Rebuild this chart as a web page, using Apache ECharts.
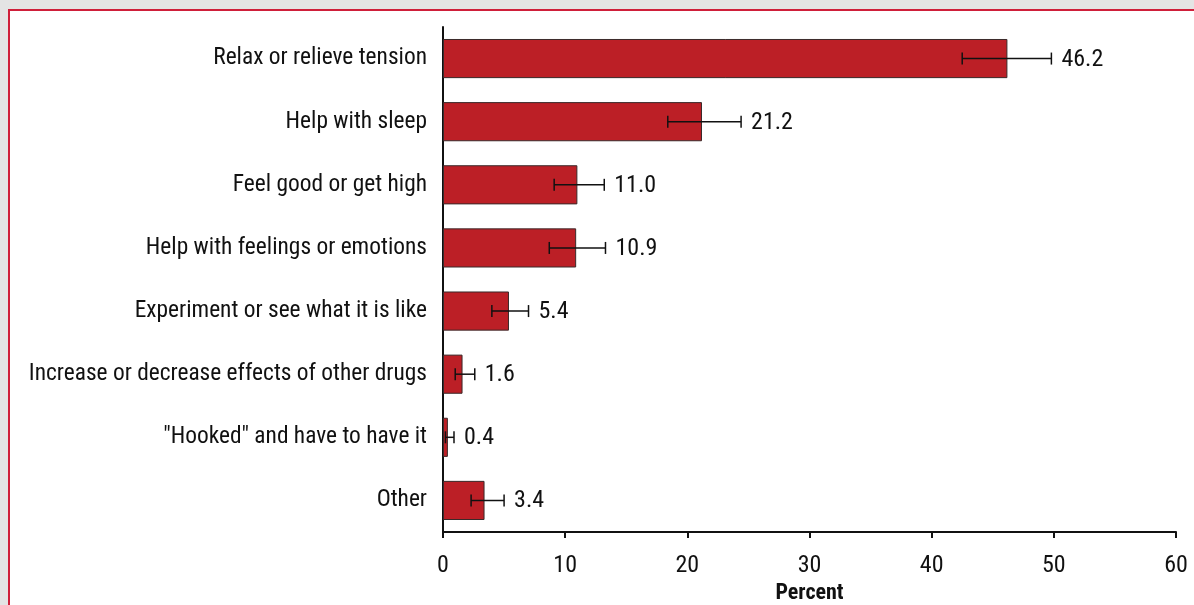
<!DOCTYPE html>
<html>
<head>
<meta charset="utf-8">
<script src="https://cdn.jsdelivr.net/npm/echarts@6/dist/echarts.min.js"></script>
<style>
  html, body { margin: 0; padding: 0; background: #e4e4e4; }
  #frame {
    position: absolute; left: 8px; top: 9px; width: 1200px; height: 620px;
    background: #ffffff; border-left: 2px solid #cf1f3a; border-top: 2px solid #cf1f3a;
  }
  #chart { position: absolute; left: 0; top: 0; width: 1194px; height: 605px; }
</style>
</head>
<body>
<div id="frame"></div>
<div id="chart"></div>
<script>
// Reasons given for use, percent of respondents with 95% confidence intervals
const reasons = [
  'Relax or relieve tension',
  'Help with sleep',
  'Feel good or get high',
  'Help with feelings or emotions',
  'Experiment or see what it is like',
  'Increase or decrease effects of other drugs',
  '"Hooked" and have to have it',
  'Other'
];
const percents = [46.2, 21.2, 11.0, 10.9, 5.4, 1.6, 0.4, 3.4];
const ciLow    = [42.5, 18.4, 9.1, 8.7, 4.0, 1.0, 0.2, 2.3];
const ciHigh   = [49.8, 24.4, 13.2, 13.3, 7.0, 2.6, 0.9, 5.0];
const xTicks   = [0, 10, 20, 30, 40, 50, 60];

const FONT = '"Roboto Condensed", "DejaVu Sans Condensed", sans-serif';

const errorData = percents.map((v, i) => [i, ciLow[i], ciHigh[i], v]);

const chart = echarts.init(document.getElementById('chart'), null, { renderer: 'canvas' });

chart.setOption({
  backgroundColor: 'transparent',
  animation: false,
  grid: { left: 443, right: 18, top: 27, bottom: 73, containLabel: false, outerBoundsMode: 'none' },
  xAxis: {
    type: 'value',
    min: xTicks[0],
    max: xTicks[xTicks.length - 1],
    interval: 10,
    axisLine: { show: true, lineStyle: { color: '#111', width: 2 } },
    axisTick: { show: true, length: 6, lineStyle: { color: '#111', width: 2 } },
    splitLine: { show: false },
    axisLabel: { color: '#111', fontSize: 24, fontFamily: FONT, margin: 22 },
    name: 'Percent',
    nameLocation: 'middle',
    nameGap: 43,
    nameTextStyle: { color: '#111', fontSize: 22, fontFamily: FONT, fontWeight: 'bold' }
  },
  yAxis: {
    type: 'category',
    data: reasons,
    inverse: true,
    axisLine: { show: true, lineStyle: { color: '#111', width: 2 } },
    axisTick: { show: false },
    axisLabel: { color: '#111', fontSize: 23.4, fontFamily: FONT, margin: 16 }
  },
  series: [
    {
      type: 'bar',
      data: percents,
      barCategoryGap: '38%',
      itemStyle: { color: '#bc1f26', borderColor: '#3a2a2a', borderWidth: 1 },
      z: 2
    },
    {
      type: 'custom',
      data: errorData,
      z: 5,
      renderItem: function (params, api) {
        const cat = api.value(0);
        const lo = api.coord([api.value(1), cat]);
        const hi = api.coord([api.value(2), cat]);
        const cap = 6;
        const style = { stroke: '#111', lineWidth: 1.5 };
        return {
          type: 'group',
          children: [
            { type: 'line', shape: { x1: lo[0], y1: lo[1], x2: hi[0], y2: hi[1] }, style: style },
            { type: 'line', shape: { x1: lo[0], y1: lo[1] - cap, x2: lo[0], y2: lo[1] + cap }, style: style },
            { type: 'line', shape: { x1: hi[0], y1: hi[1] - cap, x2: hi[0], y2: hi[1] + cap }, style: style },
            {
              type: 'text',
              x: hi[0] + 10,
              y: hi[1] + 1,
              style: {
                text: api.value(3).toFixed(1),
                fill: '#111',
                font: '24px ' + FONT,
                verticalAlign: 'middle',
                align: 'left'
              }
            }
          ]
        };
      }
    }
  ]
});
</script>
</body>
</html>
